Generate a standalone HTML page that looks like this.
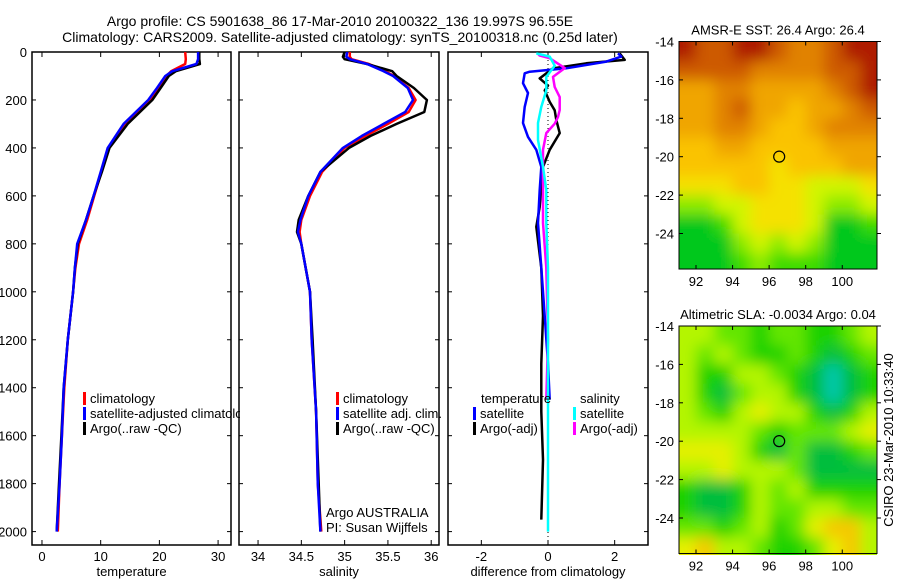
<!DOCTYPE html>
<html><head><meta charset="utf-8"><style>
body{margin:0;background:#fff}
svg{display:block;font-family:"Liberation Sans",sans-serif}
text{fill:#000}
</style></head><body>
<svg id="fig" width="900" height="580" viewBox="0 0 900 580">
<defs>
<clipPath id="cp1"><rect x="32" y="52" width="199" height="493"/></clipPath>
<clipPath id="cp2"><rect x="239" y="52" width="200" height="493"/></clipPath>
<clipPath id="cp3"><rect x="448" y="52" width="200" height="493"/></clipPath>
<clipPath id="cpl"><rect x="0" y="0" width="240" height="580"/></clipPath>
<clipPath id="cm1"><rect x="679" y="41" width="198" height="228"/></clipPath>
<clipPath id="cm2"><rect x="679" y="326" width="198" height="229"/></clipPath>
<filter id="bl" x="-10%" y="-10%" width="120%" height="120%"><feGaussianBlur stdDeviation="7"/></filter>
</defs>
<text x="340" y="26" font-size="14" text-anchor="middle">Argo profile: CS 5901638_86 17-Mar-2010 20100322_136 19.997S 96.55E</text>
<text x="340" y="42" font-size="14" text-anchor="middle">Climatology: CARS2009. Satellite-adjusted climatology: synTS_20100318.nc (0.25d later)</text>
<g id="plots"></g>
<g id="maps"></g>
<text transform="translate(893,440) rotate(-90)" font-size="13" text-anchor="middle">CSIRO 23-Mar-2010 10:33:40</text>
</svg>
<script>
// ---- profile data ----
const depthT = [0,30,50,80,100,150,200,300,400,500,600,700,800,900,1000,1200,1400,1600,1800,2000];
const tempSat = [26.6,26.6,26.3,22.2,21.0,19.6,18.1,13.9,11.2,10.0,8.8,7.5,6.0,5.6,5.3,4.4,3.7,3.4,3.0,2.5];
const tempClim = [24.4,24.5,24.4,22.0,21.2,19.8,18.4,14.2,11.4,10.1,8.9,7.7,6.3,5.7,5.3,4.4,3.8,3.4,3.0,2.7];
const tempArgo = [26.8,26.8,26.9,22.8,21.6,20.2,18.8,14.6,11.5,10.2,8.8,7.5,6.1,5.6,5.3,4.4,3.7,3.3,2.9,2.5];
const depthS = [0,20,30,50,80,100,150,200,250,300,350,400,500,600,700,750,800,1000,1200,1500,1800,2000];
const salSat = [35.03,35.02,35.06,35.26,35.45,35.56,35.73,35.79,35.70,35.45,35.2,34.98,34.72,34.58,34.49,34.46,34.5,34.6,34.62,34.67,34.69,34.72];
const salClim = [35.06,35.06,35.08,35.28,35.47,35.57,35.74,35.82,35.74,35.50,35.24,35.0,34.74,34.60,34.50,34.48,34.5,34.6,34.62,34.67,34.69,34.73];
const salArgo = [35.0,34.98,35.0,35.26,35.55,35.6,35.8,35.95,35.92,35.6,35.3,35.05,34.72,34.58,34.47,34.45,34.5,34.6,34.63,34.67,34.70,34.72];
const depthDT = [6,19,40,68,82,89,130,171,229,296,354,408,479,575,713,900,1100,1300,1450];
const diffTSat = [2.1,2.2,1.75,0.55,-0.55,-0.7,-0.75,-0.6,-0.7,-0.75,-0.6,-0.35,-0.2,-0.25,-0.3,-0.2,-0.1,0.0,0.05];
const depthDTA = [6,33,47,68,110,140,160,208,243,283,338,408,479,646,729,900,1100,1300,1500,1700,1950];
const diffTArgo = [2.15,2.3,1.15,0.15,-0.25,0,-0.1,0.05,0.2,0.25,0.35,0.05,-0.15,-0.25,-0.35,-0.2,-0.15,-0.2,-0.2,-0.15,-0.2];
const depthDSA = [8,15,26,67,104,146,188,242,271,299,338,408,479,575,713,900,1200,1450];
const diffSArgo = [-0.3,-0.25,0.05,0.5,0.15,0.2,0.35,0.35,0.3,0.2,-0.05,-0.15,-0.15,-0.15,-0.15,-0.05,0,-0.05];
const depthDS = [6,19,57,104,160,229,296,367,479,575,713,900,1200,1500,1800,2000];
const diffSSat = [-0.35,0.05,0.2,-0.05,-0.05,-0.2,-0.3,-0.3,-0.15,-0.05,-0.05,0,0,0,0,0];
const depthTicks = [0,200,400,600,800,1000,1200,1400,1600,1800,2000];
const tempTicks = [0,10,20,30];
const salTicks = [34,34.5,35,35.5,36];
const diffTicks = [-2,0,2];
// ---- map data (values 0..9 colour index), rows lat -14.5..-25.5, cols lon 91.5..101.5 ----
const mapLons = [91.5,92.5,93.5,94.5,95.5,96.5,97.5,98.5,99.5,100.5,101.5];
const mapLats = [-14.5,-15.5,-16.5,-17.5,-18.5,-19.5,-20.5,-21.5,-22.5,-23.5,-24.5,-25.5];
const sstGrid = [
[9,8,8,9,9,8,7,7,8,9,9],[8,8,8,8,7,7,7,7,8,8,9],[6,6,7,7,6,6,6,6,7,8,9],[6,6,7,8,6,6,5,6,6,7,8],
[6,6,7,7,6,5,5,6,7,7,7],[5,5,6,6,5,5,5,5,6,6,6],[5,5,5,5,5,4,5,5,5,6,6],[4,4,4,5,5,4,4,3,3,3,4],
[2,2,3,3,4,4,4,3,2,2,3],[0,0,1,3,4,4,4,3,0,0,1],[0,0,0,2,3,2,3,2,0,0,0],[0,0,0,1,2,1,1,1,0,0,0]];
const slaGrid = [
[4,4,3,3,2,3,3,2,2,3,4],[4,3,4,3,2,2,3,2,1,2,3],[4,2,2,4,4,3,2,1,0,1,2],[4,2,1,3,4,4,2,1,0,1,2],
[4,3,2,4,5,4,4,2,1,2,4],[4,4,4,4,3,2,3,3,3,4,5],[5,5,5,4,2,1,3,1,1,2,3],[4,4,5,4,4,4,3,1,1,1,1],
[2,1,1,2,4,3,4,2,2,2,2],[2,1,1,2,4,3,3,4,4,3,3],[3,3,2,3,4,2,3,5,6,6,4],[5,6,4,4,3,2,2,3,5,6,4]];
const sstColors = ['#00c81e','#3cdc00','#8ceb00','#d2f500','#f5e100','#fac300','#f0a500','#e18200','#cd5a00','#af1e00'];
const slaColors = ['#00c8aa','#00be3c','#1ed200','#64e600','#b4f500','#e6f000','#f5c800','#eb9600','#e08000','#d06000'];
const mapLonTicks = [92,94,96,98,100];
const mapLatTicks = [-14,-16,-18,-20,-22,-24];
const argoLon = 96.55, argoLat = -19.997;

const NS='http://www.w3.org/2000/svg';
function mk(tag, attrs, parent){const e=document.createElementNS(NS,tag);for(const k in attrs)e.setAttribute(k,attrs[k]);parent.appendChild(e);return e;}
const plots=document.getElementById('plots');
const yD = d => 52 + d*0.2398;
const panels = [
 {x0:32,x1:231,vmin:-1.7,vmax:32.2,ticks:tempTicks,label:'temperature',clip:'cp1',fmt:v=>String(v)},
 {x0:239,x1:439,vmin:33.78,vmax:36.09,ticks:salTicks,label:'salinity',clip:'cp2',fmt:v=>String(v)},
 {x0:448,x1:648,vmin:-3.0,vmax:3.0,ticks:diffTicks,label:'difference from climatology',clip:'cp3',fmt:v=>String(v)}
];
panels.forEach((p,i)=>{p.sx=v=>p.x0+(v-p.vmin)/(p.vmax-p.vmin)*(p.x1-p.x0);});
function axes(p,i){
 const g=mk('g',{},plots);
 
 
 mk('rect',{x:p.x0,y:52,width:p.x1-p.x0,height:493,fill:'none',stroke:'#000','stroke-width':1.5},g);
 p.ticks.forEach(t=>{const x=p.sx(t);
  mk('line',{x1:x,y1:52,x2:x,y2:57,stroke:'#000'},g);
  mk('line',{x1:x,y1:545,x2:x,y2:540,stroke:'#000'},g);
  const tx=mk('text',{x:x,y:561,'font-size':13,'text-anchor':'middle'},g);tx.textContent=p.fmt(t);
  
 });
 depthTicks.forEach(d=>{const y=yD(d);
  mk('line',{x1:p.x0,y1:y,x2:p.x0+4,y2:y,stroke:'#000'},g);
  mk('line',{x1:p.x1,y1:y,x2:p.x1-4,y2:y,stroke:'#000'},g);
  if(i===0){const tx=mk('text',{x:27,y:y+5,'font-size':13,'text-anchor':'end'},g);tx.textContent=String(d);
   }
 });
 const lab=mk('text',{x:(p.x0+p.x1)/2,y:576,'font-size':13,'text-anchor':'middle'},g);lab.textContent=p.label;
 
}
panels.forEach(axes);
const zl=mk('line',{x1:panels[2].sx(0),y1:52,x2:panels[2].sx(0),y2:545,stroke:'#000','stroke-dasharray':'1,3'},plots);


function series(p,depths,vals,color,name){
 const pts=depths.map((d,k)=>p.sx(vals[k]).toFixed(1)+','+yD(d).toFixed(1)).join(' ');
 const pl=mk('polyline',{points:pts,fill:'none',stroke:color,'stroke-width':2.5,'clip-path':'url(#'+p.clip+')','stroke-linejoin':'round'},plots);
 
 
}
series(panels[0],depthT,tempClim,'#f00','temp-climatology-line');
series(panels[0],depthT,tempArgo,'#000','temp-argo-line');
series(panels[0],depthT,tempSat,'#00f','temp-satellite-line');
series(panels[1],depthS,salClim,'#f00','sal-climatology-line');
series(panels[1],depthS,salArgo,'#000','sal-argo-line');
series(panels[1],depthS,salSat,'#00f','sal-satellite-line');
series(panels[2],depthDTA,diffTArgo,'#000','diff-temp-argo-line');
series(panels[2],depthDT,diffTSat,'#00f','diff-temp-satellite-line');
series(panels[2],depthDSA,diffSArgo,'#f0f','diff-sal-argo-line');
series(panels[2],depthDS,diffSSat,'#0ff','diff-sal-satellite-line');
function legend(x,y,color,txt,clip){
 const g=mk('g',clip?{'clip-path':'url(#'+clip+')'}:{},plots);
 
 
 if(color)mk('rect',{x:x,y:y-11,width:3,height:13,fill:color},g);
 const t=mk('text',{x:x+7,y:y,'font-size':13},g);t.textContent=txt;
}
legend(83,403,'#f00','climatology','cpl');
legend(83,418,'#00f','satellite-adjusted climatology','cpl');
legend(83,433,'#000','Argo(..raw -QC)','cpl');
legend(336,403,'#f00','climatology');
legend(336,418,'#00f','satellite adj. clim.');
legend(336,433,'#000','Argo(..raw -QC)');
legend(474,403,null,'temperature');
legend(473,418,'#00f','satellite');
legend(473,433,'#000','Argo(-adj)');
legend(573,403,null,'salinity');
legend(573,418,'#0ff','satellite');
legend(573,433,'#f0f','Argo(-adj)');
const a1=mk('text',{x:326,y:517,'font-size':13},plots);a1.textContent='Argo AUSTRALIA';

const a2=mk('text',{x:326,y:532,'font-size':13},plots);a2.textContent='PI: Susan Wijffels';


// ---- maps ----
const maps=document.getElementById('maps');
function drawMap(top,grid,colors,title,clip,name){
 const x0=679,x1=877,lonMin=91.07,lonMax=101.9,latTop=-14,latBot=-25.85,ppdY=19.2;
 const sx=l=>x0+(l-lonMin)/(lonMax-lonMin)*(x1-x0);
 const sy=l=>top+(latTop-l)*ppdY;
 const g=mk('g',{},maps);
 
 
 const cg=mk('g',{'clip-path':'url(#'+clip+')'},g);
 const bg=mk('g',{filter:'url(#bl)'},cg);
 grid.forEach((row,r)=>row.forEach((v,c)=>{
  let xa=sx(mapLons[c]-0.5),xb=sx(mapLons[c]+0.5),ya=sy(mapLats[r]+0.5),yb=sy(mapLats[r]-0.5);
  if(c===0)xa-=25; if(c===row.length-1)xb+=25; if(r===0)ya-=25; if(r===grid.length-1)yb+=25;
  const cell=mk('rect',{x:xa.toFixed(1),y:ya.toFixed(1),width:(xb-xa+0.6).toFixed(1),height:(yb-ya+0.6).toFixed(1),fill:colors[v]},bg);
  
 }));
 const bot=sy(latBot);
 mk('rect',{x:x0,y:top,width:x1-x0,height:bot-top,fill:'none',stroke:'#000','stroke-width':1},g);
 mapLonTicks.forEach(l=>{const x=sx(l);
  mk('line',{x1:x,y1:top,x2:x,y2:top+4,stroke:'#000'},g);
  mk('line',{x1:x,y1:bot,x2:x,y2:bot-4,stroke:'#000'},g);
  const t=mk('text',{x:x,y:bot+17,'font-size':13,'text-anchor':'middle'},g);t.textContent=String(l);
  
 });
 mapLatTicks.forEach(l=>{const y=sy(l);
  mk('line',{x1:x0,y1:y,x2:x0+4,y2:y,stroke:'#000'},g);
  mk('line',{x1:x1,y1:y,x2:x1+4,y2:y,stroke:'#000'},g);
  const t=mk('text',{x:674,y:y+5,'font-size':13,'text-anchor':'end'},g);t.textContent=String(l);
  
 });
 const c=mk('circle',{cx:sx(argoLon),cy:sy(argoLat),r:5.5,fill:'none',stroke:'#000','stroke-width':1.2},g);
 
 const t=mk('text',{x:778,y:top-7,'font-size':13,'text-anchor':'middle'},g);t.textContent=title;
 
}
drawMap(41.5,sstGrid,sstColors,'AMSR-E SST: 26.4  Argo: 26.4','cm1','sst-map');
drawMap(326,slaGrid,slaColors,'Altimetric SLA: -0.0034  Argo: 0.04','cm2','sla-map');
</script>
</body></html>
